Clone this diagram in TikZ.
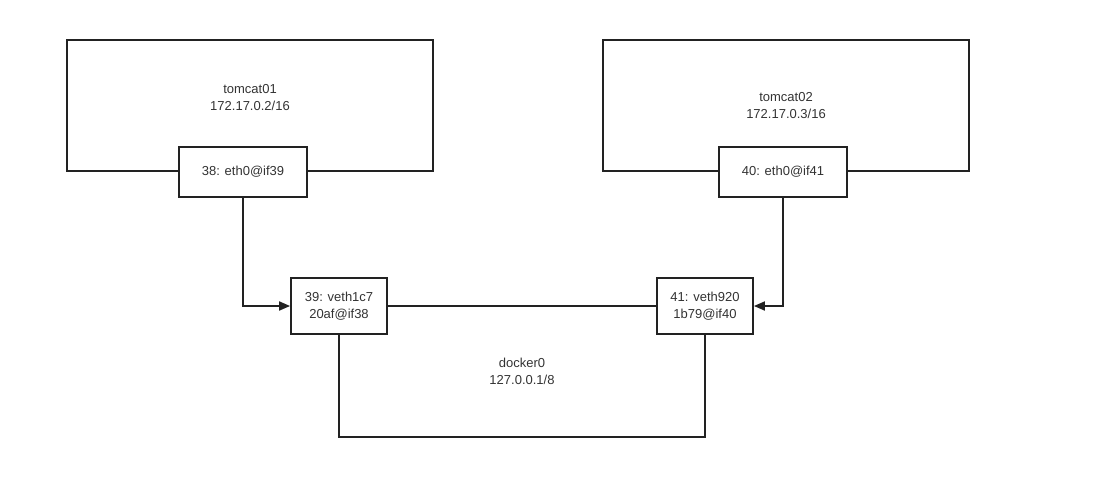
\documentclass[tikz,border=0pt]{standalone}
\usepackage{fontspec}
\setmainfont{Liberation Sans}
\usetikzlibrary{arrows.meta}
\definecolor{ln}{HTML}{222222}
\definecolor{tx}{HTML}{333333}
\begin{document}
\begin{tikzpicture}[x=1pt,y=-1pt,
  lbl/.style={inner sep=0pt,align=center,text=tx,font=\fontsize{13}{17}\selectfont},
  big/.style={lbl,draw=ln,line width=1.8pt,minimum width=366pt,minimum height=131pt},
  port/.style={lbl,draw=ln,line width=1.8pt,fill=white},
  wire/.style={draw=ln,line width=1.8pt},
  arr/.style={wire,-{Triangle[length=11pt,width=9pt]}}]
\useasboundingbox (0,0) rectangle (1111,480);
\node[big] (t1) at (250,105.5) {};
\node[lbl] (t1txt) at (250,97.5) {tomcat01\\172.17.0.2/16};
\node[big] (t2) at (786,105.5) {tomcat02\\172.17.0.3/16};
\node[big] (d0) at (522,371.5) {docker0\\127.0.0.1/8};
\node[port,minimum width=128pt,minimum height=50pt] (e1) at (243,172) {38: eth0@if39};
\node[port,minimum width=128pt,minimum height=50pt] (e2) at (783,172) {40: eth0@if41};
\node[port,minimum width=96pt,minimum height=56pt] (v1) at (339,306) {39: veth1c7\\20af@if38};
\node[port,minimum width=96pt,minimum height=56pt] (v2) at (705,306) {41: veth920\\1b79@if40};
\draw[arr] (e1.south) |- (v1.west);
\draw[arr] (e2.south) |- (v2.east);
\draw[wire] (v1.east) -- (v2.west);
\end{tikzpicture}
\end{document}
